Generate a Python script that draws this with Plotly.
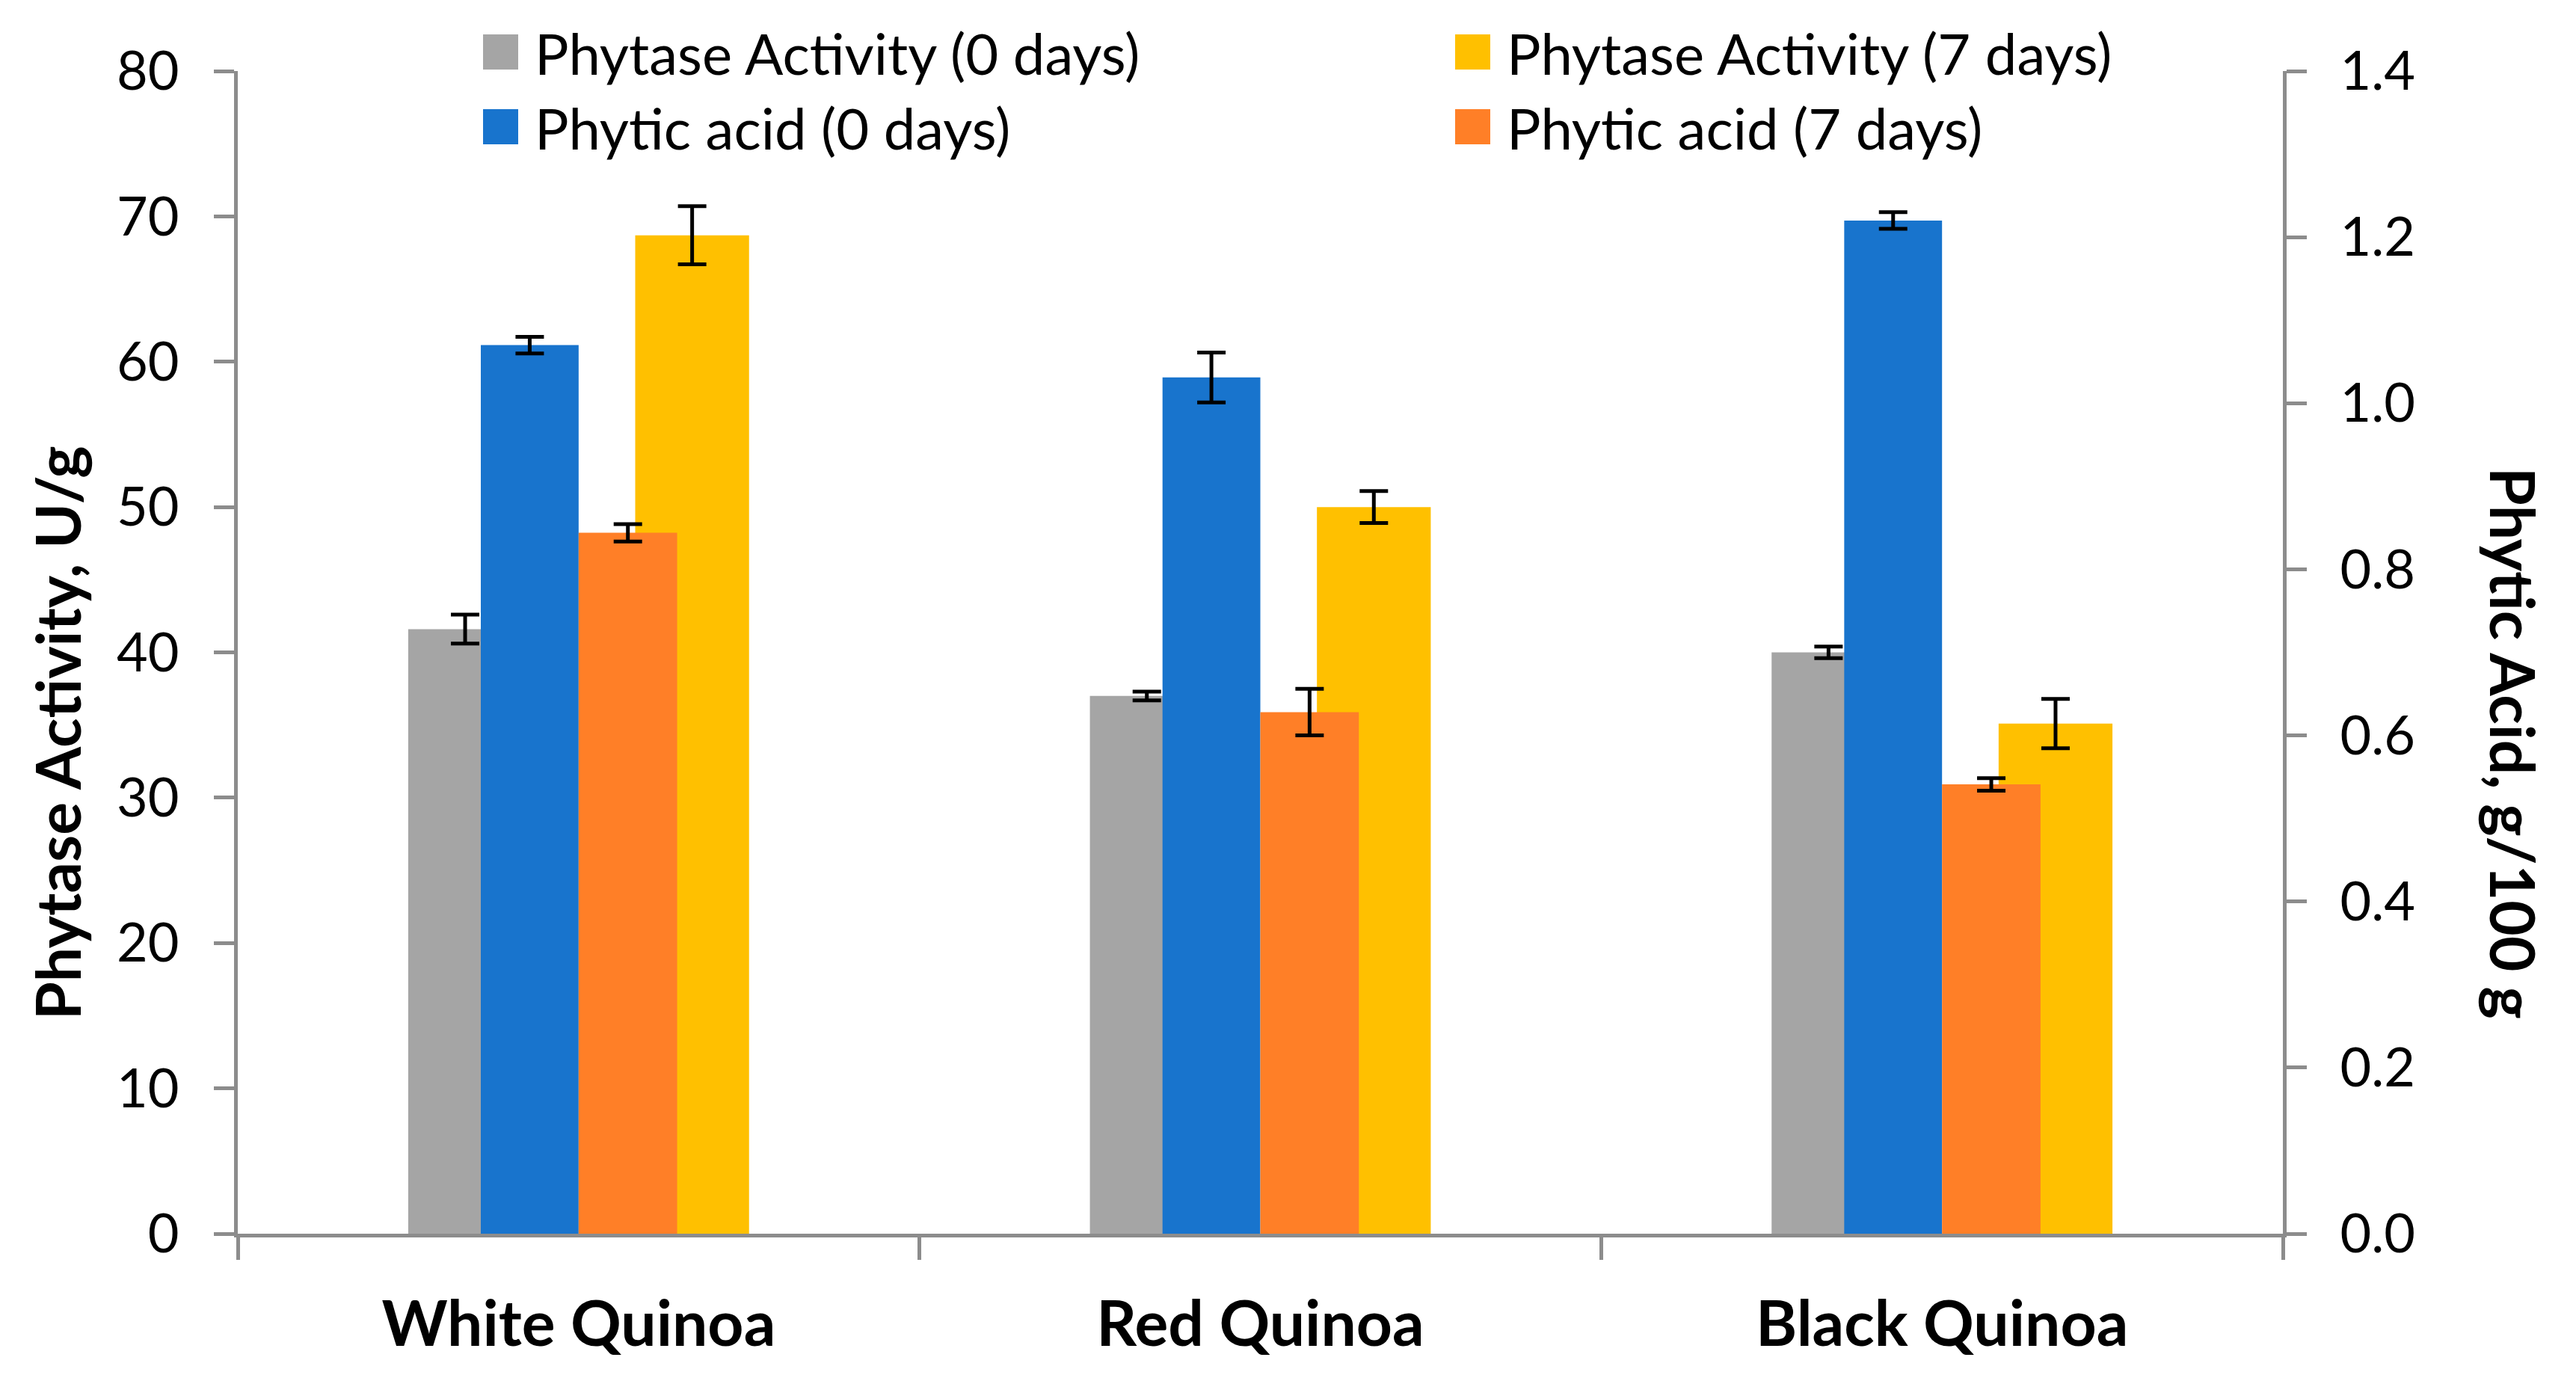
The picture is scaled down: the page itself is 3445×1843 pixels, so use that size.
import plotly.graph_objects as go

# ---------------- data ----------------
categories = ["White Quinoa", "Red Quinoa", "Black Quinoa"]

phytase_0 = [41.6, 37.0, 40.0]
phytase_0_err = [1.0, 0.3, 0.4]
phytase_7 = [68.7, 50.0, 35.1]
phytase_7_err = [2.0, 1.1, 1.7]

phytic_0 = [1.070, 1.031, 1.220]
phytic_0_err = [0.010, 0.030, 0.010]
phytic_7 = [0.844, 0.628, 0.541]
phytic_7_err = [0.0105, 0.028, 0.0075]

left_ticks = [0, 10, 20, 30, 40, 50, 60, 70, 80]
right_ticks = [0.0, 0.2, 0.4, 0.6, 0.8, 1.0, 1.2, 1.4]

names = ["Phytase Activity (0 days)", "Phytase Activity (7 days)",
         "Phytic acid (0 days)", "Phytic acid (7 days)"]
colors = ["#A5A5A5", "#FFC000", "#1874CD", "#FF7F27"]

left_title = "Phytase Activity, U/g"
right_title = "Phytic Acid, g/100 g"

# ---------------- layout geometry ----------------
W, H = 3445, 1843
ML, MR, MT, MB = 318, 392, 95, 193
PW, PH = W - ML - MR, H - MT - MB
FONT = "Lato"
AX = "#8C8C8C"


def px(x):
    return (x - ML) / PW


def py(y):
    return (H - MB - y) / PH


fig = go.Figure()

err_style = dict(type="data", visible=True, color="black", thickness=5, width=19)

# primary axis: phytase activity
fig.add_trace(go.Bar(x=categories, y=phytase_0, name=names[0], marker_color=colors[0],
                     marker_line_width=0, offset=-0.25, width=0.167,
                     error_y=dict(array=phytase_0_err, **err_style), showlegend=False))
fig.add_trace(go.Bar(x=categories, y=phytase_7, name=names[1], marker_color=colors[1],
                     marker_line_width=0, offset=0.083, width=0.167,
                     error_y=dict(array=phytase_7_err, **err_style), showlegend=False))
# secondary axis: phytic acid
fig.add_trace(go.Bar(x=categories, y=phytic_0, name=names[2], marker_color=colors[2],
                     marker_line_width=0, offset=-0.1435, width=0.1435, yaxis="y2",
                     error_y=dict(array=phytic_0_err, **err_style), showlegend=False))
fig.add_trace(go.Bar(x=categories, y=phytic_7, name=names[3], marker_color=colors[3],
                     marker_line_width=0, offset=0.0, width=0.1445, yaxis="y2",
                     error_y=dict(array=phytic_7_err, **err_style), showlegend=False))

# ---------------- manual legend ----------------
legend_pos = [  # (square left px, square top px) for each series
    (646, 46), (1946, 46), (646, 146), (1946, 146)
]
sq = 47
shapes = []
annotations = []
for (lx, ty), nm, col in zip(legend_pos, names, colors):
    shapes.append(dict(type="rect", xref="paper", yref="paper",
                       x0=px(lx), x1=px(lx + sq), y0=py(ty + sq), y1=py(ty),
                       fillcolor=col, line_width=0, layer="above"))
    annotations.append(dict(text=nm, xref="paper", yref="paper",
                            x=px(lx + sq + 20), y=py(ty + sq / 2 + 1),
                            xanchor="left", yanchor="middle", showarrow=False,
                            font=dict(family=FONT, size=76, color="black")))

annotations.append(dict(text=left_title, xref="paper", yref="paper",
                        x=px(76), y=py(980), textangle=-90, showarrow=False,
                        xanchor="center", yanchor="middle",
                        font=dict(family=FONT, size=82, color="black", weight=700)))
annotations.append(dict(text=right_title, xref="paper", yref="paper",
                        x=px(3362), y=py(994), textangle=90, showarrow=False,
                        xanchor="center", yanchor="middle",
                        font=dict(family=FONT, size=82, color="black", weight=700)))

fig.update_layout(
    width=W, height=H,
    margin=dict(l=ML, r=MR, t=MT, b=MB, pad=0),
    paper_bgcolor="white", plot_bgcolor="white",
    barmode="overlay",
    showlegend=False,
    shapes=shapes,
    annotations=annotations,
    xaxis=dict(
        type="category", showline=True, linecolor=AX, linewidth=5,
        ticks="outside", tickson="boundaries", ticklen=30, tickwidth=5, tickcolor=AX,
        tickfont=dict(family=FONT, size=84, color="black", weight=700),
        ticklabelstandoff=44, showgrid=False, zeroline=False,
    ),
    yaxis=dict(
        range=[0, 80], tickvals=left_ticks, showline=True, linecolor=AX, linewidth=5,
        ticks="outside", ticklen=27, tickwidth=5, tickcolor=AX,
        tickfont=dict(family=FONT, size=72, color="black"),
        ticklabelstandoff=32, showgrid=False, zeroline=False,
    ),
    yaxis2=dict(
        range=[0, 1.4], tickvals=right_ticks, tickformat=".1f", overlaying="y", side="right",
        showline=True, linecolor=AX, linewidth=5,
        ticks="outside", ticklen=27, tickwidth=5, tickcolor=AX,
        tickfont=dict(family=FONT, size=72, color="black"),
        ticklabelstandoff=30, showgrid=False, zeroline=False,
    ),
)

fig.write_html("out.html", config={"displayModeBar": False},
               post_script="document.body.style.margin='0';")
